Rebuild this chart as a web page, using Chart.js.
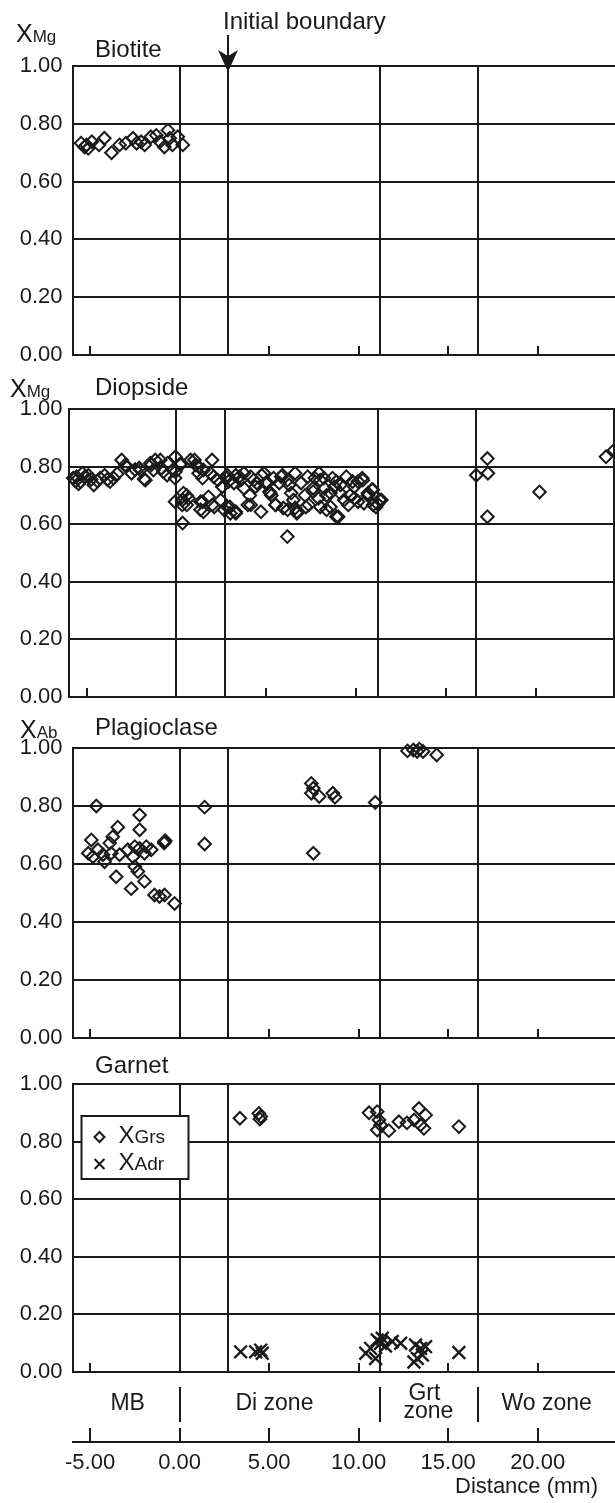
<!DOCTYPE html>
<html>
<head>
<meta charset="utf-8">
<script src="https://cdn.jsdelivr.net/npm/chart.js@4.4.1/dist/chart.umd.min.js"></script>
<style>
  body { margin: 0; background: #fff; width: 615px; height: 1503px; overflow: hidden; position: relative; }
  canvas { position: absolute; left: 0; }
</style>
</head>
<body>
<canvas id="bio" width="615" height="372" style="top:0"></canvas>
<canvas id="dio" width="615" height="340" style="top:372px"></canvas>
<canvas id="pla" width="615" height="340" style="top:712px"></canvas>
<canvas id="grt" width="615" height="330" style="top:1052px"></canvas>
<canvas id="axis" width="615" height="123" style="top:1380px"></canvas>
<script>
// ---- data (distance in mm, mole fractions) ----
const xTicks = [-5, 0, 5, 10, 15, 20];
const yTicks = [0, 0.2, 0.4, 0.6, 0.8, 1.0];
const zoneBounds = [0, 2.72, 11.2, 16.68];
const initialBoundary = 2.72;
const zoneNames = ["MB", "Di zone", "Grt|zone", "Wo zone"];
const zoneCenters = [-2.9, 5.3, 13.9, 20.5];

const biotiteX = [-5.5, -5.3, -5.1, -5.2, -4.9, -4.5, -4.2, -3.8, -3.35, -3.0, -2.6, -2.4, -2.15, -1.95, -1.6, -1.3, -1.1, -0.85, -0.65, -0.55, -0.4, -0.1, 0.18];
const biotiteY = [0.733, 0.72, 0.715, 0.727, 0.738, 0.727, 0.75, 0.70, 0.727, 0.733, 0.75, 0.733, 0.738, 0.727, 0.755, 0.76, 0.738, 0.72, 0.778, 0.75, 0.727, 0.755, 0.727];

const diopsideX = [-5.75, -5.6, -5.56, -5.45, -5.34, -5.23, -5.1, -4.9, -4.75, -4.6, -4.4, -4.25, -4.0, -3.85, -3.7, -3.5, -3.3, -3.05, -2.85, -2.8, -2.5, -2.3, -2.07, -2.0, -1.8, -1.73, -1.45, -1.4, -1.28, -1.18, -0.9, -0.85, -0.73, -0.52, -0.5, -0.2, -0.06, -0.06, -0.08, 0.22, 0.25,
  -0.08, 0.32, 0.34, 0.34, 0.39, 0.57, 0.67, 0.57,
  0.78, 1.0, 1.06, 1.23, 1.23, 1.45, 1.5, 1.98, 2.07, 1.89,
  1.34, 1.34, 1.45, 1.5, 1.78, 2.0, 2.1, 2.46, 2.3, 2.55, 2.65, 2.77, 2.83, 2.83, 2.9, 2.97, 3.0, 3.2, 3.3, 3.5, 3.75, 3.97, 4.08, 4.3, 4.4, 4.74, 4.96, 5.17, 5.28, 5.5, 5.72, 5.83, 5.95, 6.17, 6.27, 6.38, 6.5, 6.6, 6.7, 6.93, 7.15, 7.36, 7.6, 7.7, 7.9, 8.0, 8.24, 8.35, 8.57, 8.68, 8.79, 9.0, 9.1, 9.33, 9.45, 9.56, 9.66, 9.9, 10.1, 10.33, 10.43, 10.65, 10.87, 11.1, 11.3, 11.2,
  2.74, 3.3, 3.58, 4.13, 4.87, 5.07, 5.9, 6.18, 7.93, 8.2, 8.9, 10.37, 10.93, 11.4,
  3.3, 4.13, 5.53, 6.18, 6.7, 8.35, 8.9, 10.1, 10.94,
  3.75, 4.47, 5.22, 5.4, 6.6, 7.3, 7.6, 8.57, 9.13, 9.8, 9.9, 10.65, 4.7, 7.2, 8.0,
  16.68, 17.3, 17.33, 17.3, 20.2, 23.9, 24.35];
const diopsideY = [0.76, 0.75, 0.765, 0.74, 0.748, 0.777, 0.765, 0.77, 0.755, 0.736, 0.75, 0.76, 0.77, 0.755, 0.748, 0.76, 0.775, 0.823, 0.806, 0.80, 0.777, 0.79, 0.795, 0.788, 0.757, 0.753, 0.812, 0.806, 0.788, 0.823, 0.823, 0.795, 0.782, 0.77, 0.812, 0.788, 0.834, 0.782, 0.76, 0.806, 0.812,
  0.678, 0.667, 0.684, 0.604, 0.708, 0.70, 0.69, 0.667,
  0.823, 0.823, 0.806, 0.80, 0.777, 0.76, 0.788, 0.823, 0.765, 0.777,
  0.65, 0.678, 0.678, 0.643, 0.695, 0.667, 0.66, 0.684, 0.753, 0.73, 0.65, 0.76, 0.77, 0.66, 0.748, 0.66, 0.638, 0.743, 0.638, 0.765, 0.725, 0.667, 0.70, 0.753, 0.73, 0.77, 0.743, 0.713, 0.70, 0.667, 0.743, 0.765, 0.656, 0.557, 0.736, 0.708, 0.684, 0.656, 0.638, 0.743, 0.70, 0.667, 0.725, 0.76, 0.69, 0.753, 0.725, 0.70, 0.66, 0.76, 0.73, 0.626, 0.708, 0.684, 0.765, 0.667, 0.70, 0.73, 0.748, 0.76, 0.673, 0.708, 0.72, 0.66, 0.684, 0.67,
  0.765, 0.77, 0.753, 0.765, 0.777, 0.743, 0.77, 0.753, 0.777, 0.76, 0.748, 0.753, 0.72, 0.684,
  0.643, 0.667, 0.667, 0.65, 0.643, 0.65, 0.626, 0.678, 0.667,
  0.777, 0.743, 0.708, 0.76, 0.777, 0.765, 0.713, 0.708, 0.736, 0.748, 0.69, 0.70, 0.643, 0.66, 0.66,
  0.77, 0.828, 0.777, 0.626, 0.712, 0.834, 0.857];

const plagX = [-4.65, -2.23, -3.45, -2.23, -4.93, -3.73, -3.9, -0.84, -0.8, -0.86, 1.4, 1.4, -5.1, -4.84, -4.56, -4.28, -4.19, -3.82, -3.35, -2.89, -2.6, -2.5, -2.23, -1.86, -1.58, -1.96, -2.5, -2.33, -1.96, -3.54, -2.7, -1.4, -0.84, -0.28, -1.12,
  7.36, 7.47, 7.36, 7.8, 8.56, 8.68, 7.47, 10.93, 12.73, 13.06, 13.27, 13.39, 13.6, 14.36];
const plagY = [0.80, 0.769, 0.727, 0.718, 0.683, 0.694, 0.672, 0.677, 0.68, 0.672, 0.669, 0.796, 0.637, 0.625, 0.649, 0.632, 0.608, 0.637, 0.632, 0.649, 0.625, 0.66, 0.654, 0.66, 0.649, 0.637, 0.591, 0.574, 0.54, 0.556, 0.515, 0.493, 0.493, 0.464, 0.488,
  0.878, 0.861, 0.844, 0.833, 0.844, 0.830, 0.637, 0.812, 0.99, 0.993, 0.988, 0.996, 0.988, 0.976];

const grsX = [3.37, 4.43, 4.53, 4.49, 10.58, 11.04, 11.14, 11.23, 11.04, 11.69, 12.25, 12.7, 13.1, 13.37, 13.74, 13.46, 13.65, 15.6];
const grsY = [0.881, 0.898, 0.887, 0.878, 0.90, 0.904, 0.875, 0.858, 0.84, 0.838, 0.869, 0.865, 0.875, 0.915, 0.892, 0.858, 0.846, 0.852];
const adrX = [3.41, 4.25, 4.53, 4.62, 10.4, 10.67, 10.95, 11.04, 11.23, 11.32, 11.5, 11.88, 12.35, 13.18, 13.46, 13.74, 13.28, 13.09, 13.56, 15.6];
const adrY = [0.07, 0.07, 0.076, 0.065, 0.065, 0.082, 0.047, 0.111, 0.10, 0.117, 0.09, 0.106, 0.10, 0.094, 0.082, 0.088, 0.047, 0.035, 0.059, 0.068];

// ---- styling ----
const INK = "#1a1a1a";
const FONT = "'Liberation Sans', Arial, Helvetica, sans-serif";
Chart.defaults.font.family = FONT;
Chart.defaults.color = INK;

const pts = (xs, ys) => xs.map((x, i) => ({ x: x, y: ys[i] }));

function line(ctx, x1, y1, x2, y2) {
  ctx.beginPath(); ctx.moveTo(x1, y1); ctx.lineTo(x2, y2); ctx.stroke();
}

function subLabel(ctx, x, base, big, small, bigSize, smallSize) {
  ctx.font = bigSize + "px " + FONT;
  ctx.fillText(big, x, base);
  const w = ctx.measureText(big).width;
  ctx.font = smallSize + "px " + FONT;
  ctx.fillText(small, x + w, base);
}

const deco = {
  id: "deco",
  beforeDatasetsDraw(chart, args, o) {
    const { ctx, chartArea: a } = chart;
    const x = chart.scales.x;
    ctx.save();
    ctx.strokeStyle = INK;
    ctx.lineWidth = 2;
    zoneBounds.forEach((v) => {
      const px = Math.round(x.getPixelForValue(v));
      line(ctx, px, a.top, px, a.bottom);
    });
    xTicks.forEach((v) => {
      if (zoneBounds.includes(v)) return;
      const px = Math.round(x.getPixelForValue(v));
      line(ctx, px, a.bottom, px, a.bottom - 9);
    });
    if (o.rightBorder) line(ctx, a.right - 1, a.top, a.right - 1, a.bottom);
    ctx.restore();
  },
  afterDraw(chart, args, o) {
    const { ctx, chartArea: a } = chart;
    ctx.save();
    ctx.fillStyle = INK;
    ctx.strokeStyle = INK;
    ctx.textBaseline = "alphabetic";
    ctx.textAlign = "left";
    if (o.sym) subLabel(ctx, o.symX, o.symBase, "X", o.sym, 25, 17);
    if (o.title) {
      ctx.font = "24px " + FONT;
      ctx.fillText(o.title, 95, o.titleBase);
    }
    if (o.arrow) {
      const px = Math.round(chart.scales.x.getPixelForValue(initialBoundary));
      ctx.font = "24px " + FONT;
      ctx.fillText("Initial boundary", px - 5, 29);
      ctx.lineWidth = 2;
      line(ctx, px, 35, px, 58);
      ctx.beginPath();
      ctx.moveTo(px - 10, 50);
      ctx.lineTo(px, 56);
      ctx.lineTo(px + 10, 50);
      ctx.lineTo(px, a.top + 6);
      ctx.closePath();
      ctx.fill();
    }
    if (o.legend) {
      const bx = a.left + 9, by = a.top + 32, bw = 107, bh = 63;
      ctx.fillStyle = "#fff";
      ctx.fillRect(bx, by, bw, bh);
      ctx.lineWidth = 2;
      ctx.strokeRect(bx, by, bw, bh);
      chart.data.datasets.forEach((ds, i) => {
        const cy = by + 21 + i * 27;
        ctx.fillStyle = "rgba(0,0,0,0)";
        ctx.strokeStyle = INK;
        ctx.lineWidth = 2;
        Chart.helpers.drawPoint(ctx, {
          pointStyle: ds.pointStyle, radius: ds.pointStyle === "crossRot" ? 7 : 5,
          borderWidth: 2, rotation: 0
        }, bx + 18, cy);
        ctx.fillStyle = INK;
        subLabel(ctx, bx + 37, cy + 6, "X", ds.label, 24, 19);
      });
    }
    ctx.restore();
  }
};

function panel(id, cfg) {
  return new Chart(document.getElementById(id), {
    type: "scatter",
    data: { datasets: cfg.datasets },
    plugins: [deco],
    options: {
      responsive: false,
      animation: false,
      events: [],
      layout: { autoPadding: false, padding: { top: cfg.padTop, bottom: cfg.padBottom, left: 0, right: 0 } },
      plugins: { legend: { display: false }, tooltip: { enabled: false }, deco: cfg.deco },
      scales: {
        x: { type: "linear", display: false, min: cfg.xMin, max: cfg.xMax },
        y: {
          type: "linear", min: 0, max: 1,
          afterBuildTicks: (s) => { s.ticks = yTicks.map((v) => ({ value: v })); },
          afterFit: (s) => { s.width = cfg.left; s.paddingTop = 0; s.paddingBottom = 0; },
          ticks: { font: { size: 22 }, color: INK, padding: cfg.left - 62.5, callback: (v) => v.toFixed(2) },
          grid: { color: INK, lineWidth: 2, drawTicks: false },
          border: { display: true, color: INK, width: 2 }
        }
      }
    }
  });
}

function diamonds(data, label) {
  return { label: label, data: data, pointStyle: "rectRot", pointRadius: 6.3, pointBorderWidth: 2,
    pointBorderColor: INK, pointBackgroundColor: "rgba(0,0,0,0)", clip: false };
}

panel("bio", {
  left: 72.5, xMin: -5.98, xMax: 24.32, padTop: 66, padBottom: 17,
  datasets: [diamonds(pts(biotiteX, biotiteY), "Mg")],
  deco: { sym: "Mg", symX: 16, symBase: 42, title: "Biotite", titleBase: 57, arrow: true }
});
panel("dio", {
  left: 69, xMin: -5.98, xMax: 24.4, padTop: 37, padBottom: 15,
  datasets: [diamonds(pts(diopsideX, diopsideY), "Mg")],
  deco: { sym: "Mg", symX: 10, symBase: 25, title: "Diopside", titleBase: 23, rightBorder: true }
});
panel("pla", {
  left: 72.5, xMin: -5.98, xMax: 24.32, padTop: 36, padBottom: 14,
  datasets: [diamonds(pts(plagX, plagY), "Ab")],
  deco: { sym: "Ab", symX: 20, symBase: 26, title: "Plagioclase", titleBase: 23 }
});
panel("grt", {
  left: 72.5, xMin: -5.98, xMax: 24.32, padTop: 32, padBottom: 10,
  datasets: [
    diamonds(pts(grsX, grsY), "Grs"),
    { label: "Adr", data: pts(adrX, adrY), pointStyle: "crossRot", pointRadius: 9, pointBorderWidth: 2.4,
      pointBorderColor: INK, clip: false }
  ],
  deco: { title: "Garnet", titleBase: 21, legend: true }
});

// ---- shared distance axis with zone names ----
const zonePlugin = {
  id: "zones",
  afterDraw(chart) {
    const { ctx, chartArea: a } = chart;
    const x = chart.scales.x;
    ctx.save();
    ctx.fillStyle = INK;
    ctx.strokeStyle = INK;
    ctx.lineWidth = 2;
    zoneBounds.filter((v) => v !== initialBoundary).forEach((v) => {
      const px = Math.round(x.getPixelForValue(v));
      line(ctx, px, 7, px, 42);
    });
    ctx.font = "23px " + FONT;
    ctx.textAlign = "center";
    zoneNames.forEach((name, i) => {
      const px = x.getPixelForValue(zoneCenters[i]);
      const parts = name.split("|");
      if (parts.length === 1) ctx.fillText(name, px, 30);
      else { ctx.fillText(parts[0], px - 4, 20); ctx.fillText(parts[1], px, 38); }
    });
    ctx.textAlign = "right";
    ctx.font = "22px " + FONT;
    ctx.fillText("Distance (mm)", a.right - 17, 113);
    ctx.restore();
  }
};

new Chart(document.getElementById("axis"), {
  type: "scatter",
  data: { datasets: [{ data: [] }] },
  plugins: [zonePlugin],
  options: {
    responsive: false,
    animation: false,
    events: [],
    layout: { autoPadding: false, padding: { top: 48, left: 72.5, right: 0, bottom: 0 } },
    plugins: { legend: { display: false }, tooltip: { enabled: false } },
    scales: {
      x: {
        type: "linear", min: -5.98, max: 24.32, position: "bottom",
        afterBuildTicks: (s) => { s.ticks = xTicks.map((v) => ({ value: v })); },
        afterFit: (s) => { s.height = 61; },
        ticks: { font: { size: 22 }, color: INK, padding: 8, maxRotation: 0, callback: (v) => v.toFixed(2) },
        grid: { color: INK, lineWidth: 2, drawTicks: false },
        border: { display: true, color: INK, width: 2 }
      },
      y: { display: false, min: 0, max: 1 }
    }
  }
});
</script>
</body>
</html>
